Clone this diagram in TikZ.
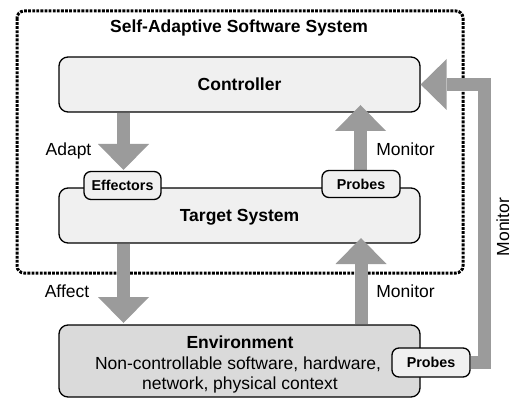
\documentclass[tikz,border=0pt]{standalone}
\usepackage{fontspec}
\setmainfont{Liberation Sans}
\usetikzlibrary{arrows.meta}
\definecolor{arrowgray}{HTML}{9B9B9B}
\definecolor{boxfill}{HTML}{F0F0F0}
\definecolor{envfill}{HTML}{DADADA}
\tikzset{
  bigbox/.style={draw=black, line width=1.3pt, rounded corners=9pt, fill=boxfill,
    minimum width=361pt, minimum height=55pt, inner sep=0pt,
    font=\fontsize{17.5}{20}\selectfont\bfseries, text height=12.5pt, text depth=0pt},
  smallbox/.style={draw=black, line width=1.3pt, rounded corners=7pt, fill=boxfill,
    minimum width=77pt, minimum height=28pt, inner sep=0pt,
    font=\fontsize{14.3}{16}\selectfont\bfseries, text height=10.3pt, text depth=0pt},
  lbl/.style={anchor=base, inner sep=0pt, font=\fontsize{17.5}{20}\selectfont},
  fat/.style={draw=arrowgray, line width=13pt, line join=miter,
    -{Triangle[width=51pt,length=26pt,line width=0pt]}},
  sysbox/.style={draw=black, line width=3pt, dash pattern=on 2.8pt off 1.3pt, rounded corners=7pt}
}
\begin{document}
\begin{tikzpicture}[x=1pt,y=-1pt]
\useasboundingbox (0,0) rectangle (513,398);
% system boundary
\draw[sysbox] (17,11) rectangle (463,273);
\node[lbl, font=\fontsize{17.5}{20}\selectfont\bfseries] (title) at (239,33) {Self-Adaptive Software System};
% main boxes
\node[bigbox] (ctrl) at (239.5,84.5) {Controller};
\node[bigbox] (target) at (239.5,215.5) {Target System};
\node[bigbox, fill=envfill, minimum height=72pt] (env) at (239.5,361) {};
\node[lbl, font=\fontsize{17.5}{20}\selectfont\bfseries] (envtitle) at (240,348) {Environment};
\node[lbl] (envl1) at (238,369) {Non-controllable software, hardware,};
\node[lbl] (envl2) at (240,389.5) {network, physical context};
% coordinates for arrows
\coordinate (adt) at (123.5,170);
\coordinate (aft) at (123.5,323);
\coordinate (mon1) at (360.5,105);
\coordinate (mon2) at (361,238);
\coordinate (outer) at (484,84.5);
% small boxes (positions)
\path (122.5,185.5) coordinate (effpos);
\path (361,184) coordinate (tprpos);
\path (431,362.5) coordinate (eprpos);
\node[smallbox, draw=none, fill=none] (effg) at (effpos) {\phantom{Effectors}};
\node[smallbox, draw=none, fill=none, minimum width=78pt, minimum height=27pt] (tprg) at (tprpos) {\phantom{Probes}};
\node[smallbox, draw=none, fill=none, minimum width=78pt, minimum height=29pt] (eprg) at (eprpos) {\phantom{Probes}};
% arrows
\draw[fat] (adt |- ctrl.south) -- (adt);
\draw[fat] (aft |- target.south) -- (aft);
\draw[fat] (mon1 |- tprg.north) -- (mon1);
\draw[fat] (mon2 |- env.north) -- (mon2);
\draw[fat] (eprg.east) -| (outer) -- (ctrl.east);
% small boxes
\node[smallbox] (eff) at (effpos) {Effectors};
\node[smallbox, minimum width=78pt, minimum height=27pt] (tprobes) at (tprpos) {Probes};
\node[smallbox, minimum width=78pt, minimum height=29pt] (eprobes) at (eprpos) {Probes};
% labels
\node[lbl] (adapt) at (68.5,156) {Adapt};
\node[lbl] (monitor1) at (405.5,156) {Monitor};
\node[lbl] (affect) at (67,297) {Affect};
\node[lbl] (monitor2) at (405.5,297) {Monitor};
\node[lbl, rotate=90] (monitor3) at (509,227) {Monitor};
\end{tikzpicture}
\end{document}
